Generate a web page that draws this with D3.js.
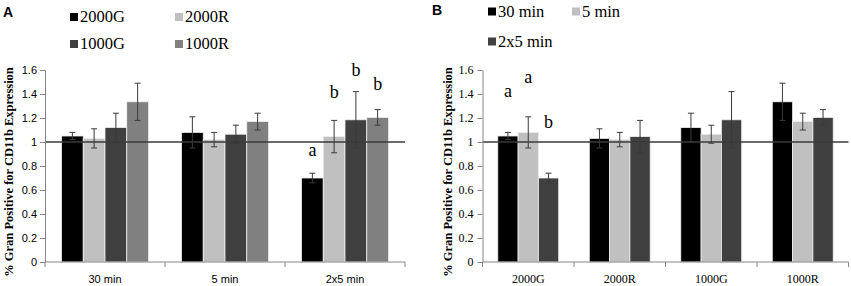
<!DOCTYPE html>
<html>
<head>
<meta charset="utf-8">
<script src="https://cdn.jsdelivr.net/npm/d3@7"></script>
<style>
  body { margin: 0; background: #fff; }
  svg { display: block; }
</style>
</head>
<body>
<div id="chart"></div>
<script>
// exposure times and doses
const times = ["30 min", "5 min", "2x5 min"];
const doses = ["2000G", "2000R", "1000G", "1000R"];

// mean and error per dose, in order of times
const mean2000G = [1.05, 1.08, 0.70];
const err2000G  = [0.03, 0.13, 0.04];
const mean2000R = [1.03, 1.02, 1.045];
const err2000R  = [0.08, 0.06, 0.135];
const mean1000G = [1.12, 1.065, 1.185];
const err1000G  = [0.12, 0.075, 0.235];
const mean1000R = [1.335, 1.17, 1.205];
const err1000R  = [0.155, 0.07, 0.065];

const yTicks = [0, 0.2, 0.4, 0.6, 0.8, 1, 1.2, 1.4, 1.6];
const refLine = 1;

// significance letters: [time, dose, letter, level]
const lettersA = [
  ["2x5 min", "2000G", "a", 0.88],
  ["2x5 min", "2000R", "b", 1.37],
  ["2x5 min", "1000G", "b", 1.55],
  ["2x5 min", "1000R", "b", 1.43]
];
const lettersB = [
  ["30 min", "2000G", "a", 1.375],
  ["5 min", "2000G", "a", 1.49],
  ["2x5 min", "2000G", "b", 1.115]
];

const meanOf = {"2000G": mean2000G, "2000R": mean2000R, "1000G": mean1000G, "1000R": mean1000R};
const errOf  = {"2000G": err2000G,  "2000R": err2000R,  "1000G": err1000G,  "1000R": err1000R};
const doseColor = {"2000G": "#000000", "2000R": "#c0c0c0", "1000G": "#404040", "1000R": "#808080"};
const timeColor = {"30 min": "#000000", "5 min": "#c0c0c0", "2x5 min": "#404040"};

const W = 851, H = 286;
const svg = d3.select("#chart").append("svg").attr("width", W).attr("height", H);

const y = d3.scaleLinear().domain([0, 1.6]).range([262, 70]);

function drawPanel(opt) {
  const g = svg.append("g");
  const x0 = d3.scaleBand().domain(opt.cats).range([opt.left, opt.right]);
  const step = x0.bandwidth();
  const x1 = d3.scaleBand().domain(opt.series).range([opt.pad, step - opt.pad]);

  let rows = [];
  opt.cats.forEach(c => opt.series.forEach(s => {
    const d = opt.get(c, s);
    rows.push({cat: c, ser: s, v: d[0], e: d[1]});
  }));

  // bars
  g.selectAll(".bar").data(rows).enter().append("rect")
    .attr("x", d => x0(d.cat) + x1(d.ser))
    .attr("y", d => y(d.v))
    .attr("width", x1.bandwidth())
    .attr("height", d => y(0) - y(d.v))
    .attr("fill", d => opt.color[d.ser])
    .attr("stroke", "#eeeeee").attr("stroke-width", 0.8);

  // reference line at 1
  g.append("line")
    .attr("x1", opt.left).attr("x2", opt.right)
    .attr("y1", y(refLine)).attr("y2", y(refLine))
    .attr("stroke", "#3a3a3a").attr("stroke-width", 1.5);

  // error bars
  const eb = g.selectAll(".err").data(rows).enter().append("g")
    .attr("stroke", "#3a3a3a").attr("stroke-width", 1);
  const cx = d => x0(d.cat) + x1(d.ser) + x1.bandwidth() / 2;
  eb.append("line").attr("x1", cx).attr("x2", cx)
    .attr("y1", d => y(d.v - d.e)).attr("y2", d => y(d.v + d.e));
  [1, -1].forEach(sg => {
    eb.append("line").attr("x1", d => cx(d) - 3).attr("x2", d => cx(d) + 3)
      .attr("y1", d => y(d.v + sg * d.e)).attr("y2", d => y(d.v + sg * d.e));
  });

  // axes
  const yAxis = d3.axisLeft(y).tickValues(yTicks).tickSize(5).tickSizeOuter(0)
    .tickFormat(d3.format("~g"));
  const ya = g.append("g").attr("transform", "translate(" + opt.left + ",0)").call(yAxis);
  ya.select(".domain").attr("stroke", "#868686");
  ya.selectAll(".tick line").attr("stroke", "#868686");
  ya.selectAll("text").attr("fill", "#000").attr("x", -opt.tickGap)
    .style("font-family", opt.font).style("font-size", opt.tickSize + "px");

  g.append("line").attr("x1", opt.left).attr("x2", opt.right)
    .attr("y1", y(0)).attr("y2", y(0)).attr("stroke", "#868686");
  const edges = opt.cats.map(c => x0(c)).concat([opt.right]);
  g.selectAll(".xt").data(edges).enter().append("line")
    .attr("x1", d => d).attr("x2", d => d)
    .attr("y1", y(0)).attr("y2", y(0) + 5).attr("stroke", "#868686");
  g.selectAll(".xl").data(opt.cats).enter().append("text")
    .attr("x", d => x0(d) + step / 2).attr("y", 283)
    .attr("text-anchor", "middle")
    .style("font-family", opt.font).style("font-size", opt.tickSize + "px")
    .text(d => d);

  // y title
  g.append("text")
    .attr("transform", "translate(" + opt.titleX + "," + 172 + ") rotate(-90)")
    .attr("text-anchor", "middle")
    .style("font-family", "'Liberation Serif', serif").style("font-weight", "bold")
    .style("font-size", "12.5px")
    .text("% Gran Positive for CD11b Expression");

  // letters
  g.selectAll(".sig").data(opt.letters).enter().append("text")
    .attr("x", d => x0(d[opt.catIdx]) + x1(d[opt.serIdx]) + x1.bandwidth() / 2)
    .attr("y", d => y(d[3]))
    .attr("text-anchor", "middle")
    .style("font-family", "'Liberation Serif', serif").style("font-size", "18px")
    .text(d => d[2]);

  // legend
  opt.legend.forEach((s, i) => {
    const lx = opt.legX[i % 2], ly = opt.legY[Math.floor(i / 2)];
    g.append("rect").attr("x", lx).attr("y", ly - 9).attr("width", 8).attr("height", 8)
      .attr("fill", opt.color[s]);
    g.append("text").attr("x", lx + 10).attr("y", ly)
      .style("font-family", "'Liberation Serif', serif").style("font-size", "16.5px")
      .text(s);
  });

  g.append("text").attr("x", opt.tagX).attr("y", opt.tagY)
    .style("font-family", "'Liberation Sans', Arial, sans-serif").style("font-weight", "bold")
    .style("font-size", "14px").text(opt.tag);
}

// panel A: groups by time, bars by dose
drawPanel({
  cats: times, series: doses,
  get: (t, d) => [meanOf[d][times.indexOf(t)], errOf[d][times.indexOf(t)]],
  color: doseColor, left: 45, right: 405, pad: 16.5,
  font: "'Liberation Sans', Arial, sans-serif", tickSize: 11, tickGap: 8,
  titleX: 13, letters: lettersA, catIdx: 0, serIdx: 1,
  legend: doses, legX: [70, 175], legY: [22, 49],
  tag: "A", tagX: 3, tagY: 17
});

// panel B: groups by dose, bars by time
drawPanel({
  cats: doses, series: times,
  get: (d, t) => [meanOf[d][times.indexOf(t)], errOf[d][times.indexOf(t)]],
  color: timeColor, left: 482.5, right: 848.5, pad: 15.3,
  font: "'Liberation Serif', serif", tickSize: 12, tickGap: 9,
  titleX: 452, letters: lettersB, catIdx: 1, serIdx: 0,
  legend: times, legX: [488, 572], legY: [16.5, 46.5],
  tag: "B", tagX: 432, tagY: 15
});
</script>
</body>
</html>
